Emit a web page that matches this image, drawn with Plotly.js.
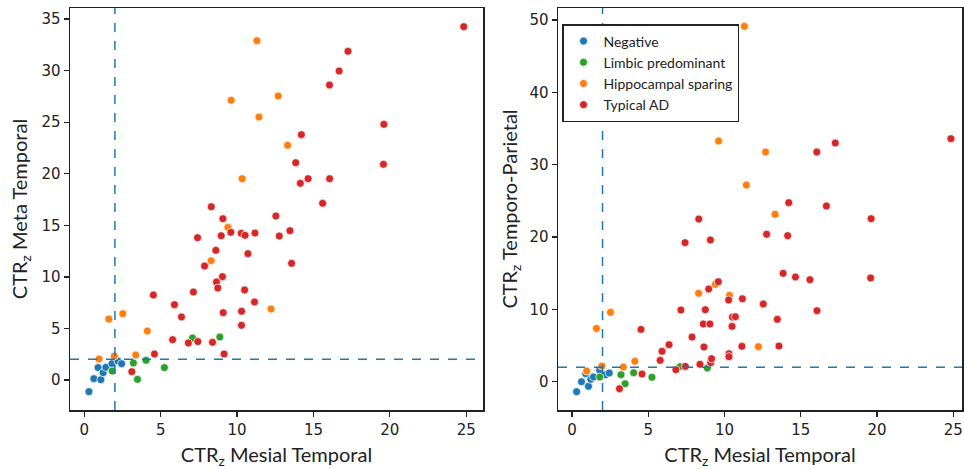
<!DOCTYPE html>
<html>
<head>
<meta charset="utf-8">
<script src="https://cdn.plot.ly/plotly-3.0.1.min.js"></script>
<style>html,body{margin:0;padding:0;background:#fff;}#chart{width:964px;height:469px;}</style>
</head>
<body>
<div id="chart"></div>
<script>
// ---- Data (CTR_z values) ----
const groups = ["Negative", "Limbic predominant", "Hippocampal sparing", "Typical AD"];
const colors = ["#1f77b4", "#2ca02c", "#ff7f0e", "#d62728"];
const threshold = 2;

// Negative
const negMesial = [0.30, 0.62, 1.08, 0.90, 1.23, 1.41, 1.81, 2.20, 2.44];
const negMeta   = [-1.13, 0.13, 0.03, 1.20, 0.71, 1.23, 1.58, 1.84, 1.58];
const negTP     = [-1.38, 0.00, -0.64, 1.11, 0.33, 0.65, 1.58, 0.97, 1.20];

// Limbic predominant
const limMesial = [7.08, 8.87, 3.21, 4.04, 5.24, 1.82, 3.48];
const limMeta   = [4.07, 4.17, 1.65, 1.91, 1.20, 0.87, 0.06];
const limTP     = [2.08, 1.89, 0.97, 1.24, 0.61, 0.65, -0.28];

// Hippocampal sparing
const hipMesial = [11.30, 9.61, 12.69, 11.43, 13.31, 10.33, 9.40, 8.30, 12.22, 1.60, 2.52, 4.12, 0.96, 1.96, 3.36];
const hipMeta   = [32.90, 27.12, 27.54, 25.50, 22.75, 19.52, 14.80, 11.57, 6.88, 5.91, 6.43, 4.75, 2.04, 2.33, 2.42];
const hipTP     = [49.13, 33.27, 31.75, 27.19, 23.14, 11.94, 13.46, 12.22, 4.84, 7.37, 9.59, 2.82, 1.48, 2.17, 2.03];

// Typical AD
const adMesial = [24.84, 17.26, 16.68, 16.05, 19.61, 14.21, 13.84, 19.58, 14.14, 14.65, 16.06, 15.60,
                  8.31, 12.54, 9.07, 13.46, 9.59, 10.27, 10.52, 11.17, 8.96, 12.76, 7.41, 8.61,
                  10.71, 13.57, 7.87, 9.04, 8.65, 8.74, 10.49, 4.52, 7.14, 5.90, 11.14, 6.36,
                  9.09, 10.29, 10.29, 5.78, 6.81, 7.43, 8.39, 9.15, 4.59, 3.11];
const adMeta   = [34.26, 31.87, 29.96, 28.60, 24.79, 23.79, 21.07, 20.91, 19.07, 19.52, 19.52, 17.13,
                  16.80, 15.90, 15.64, 14.48, 14.32, 14.22, 14.03, 14.25, 13.99, 13.96, 13.80, 12.57,
                  12.25, 11.31, 11.05, 10.02, 9.50, 8.92, 8.73, 8.24, 8.53, 7.30, 7.56, 6.11,
                  6.53, 6.66, 5.30, 3.91, 3.59, 3.72, 3.65, 2.52, 2.52, 0.81];
const adTP     = [33.60, 33.00, 24.29, 31.75, 22.54, 24.75, 14.98, 14.34, 20.19, 14.47, 9.82, 14.10,
                  22.49, 10.74, 19.59, 8.62, 13.82, 11.29, 8.94, 11.47, 12.81, 20.38, 19.22, 7.98,
                  8.99, 4.93, 6.17, 7.98, 4.80, 9.95, 7.65, 7.23, 9.91, 4.20, 4.89, 5.12,
                  2.63, 3.87, 3.46, 2.95, 1.66, 2.12, 2.40, 3.18, 1.06, -0.97];

const xData  = [negMesial, limMesial, hipMesial, adMesial];
const yLeft  = [negMeta, limMeta, hipMeta, adMeta];
const yRight = [negTP, limTP, hipTP, adTP];

// ---- Traces ----
const traces = [];
for (let i = 0; i < groups.length; i++) {
  const marker = {color: colors[i], size: 8, line: {color: "#ffffff", width: 0.7}};
  traces.push({type: "scatter", mode: "markers", x: xData[i], y: yLeft[i], name: groups[i],
               xaxis: "x", yaxis: "y", marker: marker, showlegend: false, hoverinfo: "x+y"});
  traces.push({type: "scatter", mode: "markers", x: xData[i], y: yRight[i], name: groups[i],
               xaxis: "x2", yaxis: "y2", marker: marker, showlegend: true, hoverinfo: "x+y"});
}

const W = 964, H = 469;
const tickFont = {family: "DejaVu Sans", size: 15, color: "#222"};
const titleFont = {family: "Lato", size: 20, color: "#222"};
const axisCommon = {
  showgrid: false, zeroline: false, showline: true, linecolor: "#222", linewidth: 1.5,
  mirror: true, ticks: "outside", ticklen: 5, tickwidth: 1.3, tickcolor: "#222",
  tickfont: tickFont, automargin: false
};

const dash = {color: "#1f77b4", width: 1.5, dash: "dash"};
const shapes = [
  {type: "line", xref: "x", yref: "y domain", x0: threshold, x1: threshold, y0: 0, y1: 1, line: dash},
  {type: "line", xref: "x domain", yref: "y", x0: 0, x1: 1, y0: threshold, y1: threshold, line: dash},
  {type: "line", xref: "x2", yref: "y2 domain", x0: threshold, x1: threshold, y0: 0, y1: 1, line: dash},
  {type: "line", xref: "x2 domain", yref: "y2", x0: 0, x1: 1, y0: threshold, y1: threshold, line: dash}
];

const yDom = [(H - 410) / H, (H - 8) / H];
const layout = {
  width: W, height: H,
  margin: {l: 0, r: 0, t: 0, b: 0},
  paper_bgcolor: "#fff", plot_bgcolor: "#fff",
  showlegend: true,
  xaxis: Object.assign({}, axisCommon, {
    domain: [70 / W, 483 / W], range: [-0.94, 26.1], tickvals: [0, 5, 10, 15, 20, 25],
    title: {text: "CTR<sub>z</sub> Mesial Temporal", font: titleFont, standoff: 11}, anchor: "y"
  }),
  yaxis: Object.assign({}, axisCommon, {
    domain: yDom, range: [-2.91, 36.07], tickvals: [0, 5, 10, 15, 20, 25, 30, 35],
    title: {text: "CTR<sub>z</sub> Meta Temporal", font: titleFont, standoff: 8}, anchor: "x"
  }),
  xaxis2: Object.assign({}, axisCommon, {
    domain: [558 / W, 962 / W], range: [-0.92, 25.57], tickvals: [0, 5, 10, 15, 20, 25],
    title: {text: "CTR<sub>z</sub> Mesial Temporal", font: titleFont, standoff: 11}, anchor: "y2"
  }),
  yaxis2: Object.assign({}, axisCommon, {
    domain: yDom, range: [-3.91, 51.66], tickvals: [0, 10, 20, 30, 40, 50],
    title: {text: "CTR<sub>z</sub> Temporo-Parietal", font: titleFont, standoff: 6}, anchor: "x2"
  }),
  legend: {
    x: 562 / W, y: (H - 24) / H, xanchor: "left", yanchor: "top",
    bgcolor: "#fff", bordercolor: "#222", borderwidth: 1.5,
    font: {family: "Lato", size: 14, color: "#222"}, tracegroupgap: 0, itemwidth: 30
  },
  shapes: shapes
};

Plotly.newPlot("chart", traces, layout, {displayModeBar: false, staticPlot: true});
</script>
</body>
</html>
